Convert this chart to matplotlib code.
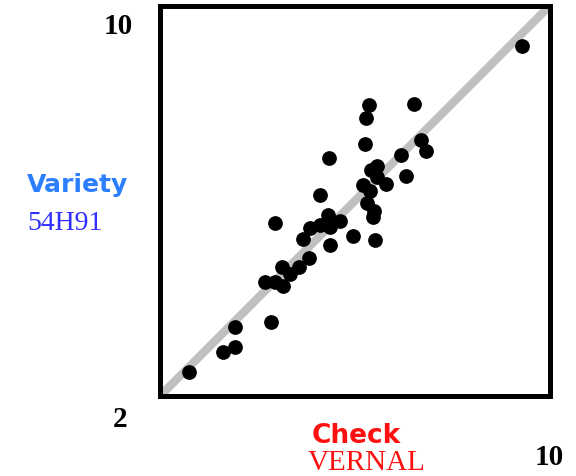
import matplotlib
matplotlib.use("Agg")
import matplotlib.pyplot as plt

# check (VERNAL) vs variety (54H91) values
check_vernal = [2.60, 3.29, 3.54, 3.54, 4.29, 4.16, 4.36, 4.53, 4.50, 4.68,
                4.86, 5.07, 4.93, 5.08, 5.29, 5.46, 5.49, 5.70, 5.49, 4.36,
                5.29, 5.48, 5.96, 6.41, 6.38, 6.40, 6.26, 6.17, 6.31, 6.33,
                6.45, 6.45, 6.65, 6.22, 6.24, 6.29, 6.94, 7.05, 7.22, 7.37,
                7.46, 9.43]
variety_54h91 = [2.50, 2.90, 3.01, 3.41, 3.51, 4.34, 4.33, 4.26, 4.64, 4.50,
                 4.64, 4.83, 5.23, 5.44, 5.51, 5.71, 5.46, 5.58, 5.10, 5.55,
                 6.12, 6.88, 5.28, 5.19, 5.67, 5.80, 5.96, 6.33, 6.21, 6.64,
                 6.72, 6.49, 6.35, 7.17, 7.70, 7.97, 6.95, 6.52, 8.00, 7.26,
                 7.03, 9.17]
axis_min = 2
axis_max = 10

W, H = 576, 477
fig = plt.figure(figsize=(W / 100, H / 100), dpi=100)
ax = fig.add_axes([160 / W, 1 - 397 / H, 389.5 / W, 390 / H])

ax.plot([axis_min, axis_max], [axis_min, axis_max], color="#c0c0c0", lw=6,
        solid_capstyle="butt", zorder=1)
ax.scatter(check_vernal, variety_54h91, s=92, color="black", zorder=2)

ax.set_xlim(axis_min, axis_max)
ax.set_ylim(axis_min, axis_max)
ax.set_xticks([])
ax.set_yticks([])
for sp in ax.spines.values():
    sp.set_linewidth(3.6)
    sp.set_color("black")


def txt(x, y, s, **kw):
    fig.text(x / W, 1 - y / H, s, va="baseline", **kw)


serif = "Liberation Serif"
sans = "DejaVu Sans"
txt(118, 34, str(axis_max), ha="center", fontsize=21, fontweight="bold", family=serif)
txt(120, 427, str(axis_min), ha="center", fontsize=21, fontweight="bold", family=serif)
txt(549, 465, str(axis_max), ha="center", fontsize=21, fontweight="bold", family=serif)

txt(27, 192, "Variety", ha="left", fontsize=18, fontweight="bold", family=sans, color="#2b7fff")
txt(27, 230, "54H91", ha="left", fontsize=20, family=serif, color="#3030ff")
txt(312, 443, "Check", ha="left", fontsize=19, fontweight="bold", family=sans, color="#ff1010")
txt(308, 470, "VERNAL", ha="left", fontsize=21, family=serif, color="#ff1010")

fig.savefig("out.png", dpi=100)
